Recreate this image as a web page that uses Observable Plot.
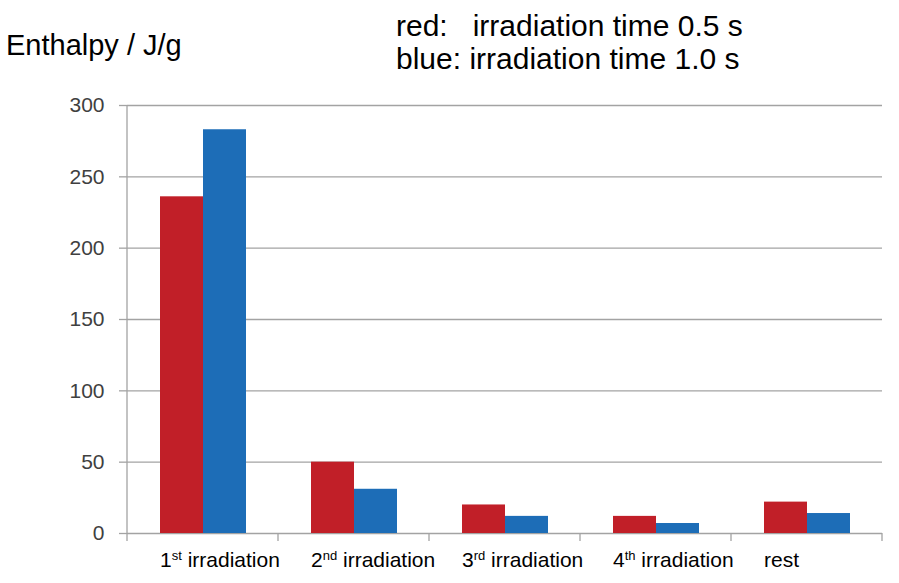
<!DOCTYPE html>
<html>
<head>
<meta charset="utf-8">
<script src="https://cdn.jsdelivr.net/npm/d3@7"></script>
<script src="https://cdn.jsdelivr.net/npm/@observablehq/plot@0.6"></script>
<style>
  body { margin: 0; background: #fff; font-family: "Liberation Sans", Arial, sans-serif; }
  #wrap { position: relative; width: 899px; height: 583px; overflow: hidden; }
  #wrap svg { position: absolute; left: 0; top: 0; }
  .t { position: absolute; white-space: pre; line-height: 1; color: #000; font-family: "Liberation Sans", Arial, sans-serif; }
</style>
</head>
<body>
<div id="wrap">
  <div class="t" style="left:6px;top:31px;font-size:29px">Enthalpy / J/g</div>
  <div class="t" style="left:396px;top:11px;font-size:30px">red:   irradiation time 0.5 s</div>
  <div class="t" style="left:396px;top:44px;font-size:30px">blue: irradiation time 1.0 s</div>
</div>
<script>
const categories = ["1st irradiation", "2nd irradiation", "3rd irradiation", "4th irradiation", "rest"];
const series = ["0.5 s", "1.0 s"];
const red05 = [236, 50, 20, 12, 22];
const blue10 = [283, 31, 12, 7, 14];
const yTicks = [0, 50, 100, 150, 200, 250, 300];
const colors = ["#c11f28", "#1d6db7"];

const data = categories.flatMap((c, i) => [
  {category: c, series: series[0], value: red05[i]},
  {category: c, series: series[1], value: blue10[i]}
]);

const gridColor = "#a3a3a3";

const chart = Plot.plot({
  width: 899,
  height: 583,
  marginTop: 105,
  marginBottom: 50,
  marginLeft: 125,
  marginRight: 16,
  style: {fontFamily: "Liberation Sans, Arial, sans-serif", background: "transparent"},
  fx: {domain: categories, padding: 0, axis: null, label: null},
  x: {domain: series, paddingInner: 0, paddingOuter: 0.74, axis: null},
  y: {domain: [0, 300], axis: null},
  color: {domain: series, range: colors},
  marks: [
    Plot.gridY(yTicks, {stroke: gridColor, strokeOpacity: 1, strokeWidth: 1.3}),
    Plot.axisY(yTicks, {tickSize: 8, tickPadding: 15, fontSize: 21, fill: "#404040", stroke: gridColor, strokeWidth: 1.3, strokeOpacity: 1, label: null}),
    Plot.barY(data, {fx: "category", x: "series", y: "value", fill: "series"}),
    Plot.axisFx({anchor: "bottom", tickSize: 0, tickPadding: 19, fontSize: 21, fill: "#000", textAnchor: "start", dx: -43, label: null})
  ]
});

document.getElementById("wrap").prepend(chart);

// axis line and category boundary ticks, from the library's scales
const svg = d3.select(chart);
const fx = chart.scale("fx");
const y = chart.scale("y");
const y0 = y.apply(0), yTop = y.apply(300);
const g = svg.append("g").attr("stroke", gridColor).attr("stroke-width", 1.3);
const xLeft = fx.apply(categories[0]);
g.append("line").attr("x1", xLeft).attr("x2", xLeft).attr("y1", yTop).attr("y2", y0 + 8);
const bounds = categories.slice(1).map(c => fx.apply(c));
bounds.push(fx.apply(categories[categories.length - 1]) + fx.bandwidth);
bounds.forEach(xb => {
  g.append("line").attr("x1", xb).attr("x2", xb).attr("y1", y0).attr("y2", y0 + 8);
});

// superscript ordinals
svg.selectAll("text").each(function() {
  const t = d3.select(this);
  const s = t.text();
  const m = s.match(/^(\d+)(st|nd|rd|th)(.*)$/);
  if (!m) return;
  t.text(null);
  t.append("tspan").text(m[1]);
  t.append("tspan").attr("font-size", 13).attr("dy", -7).text(m[2]);
  t.append("tspan").attr("dy", 7).text(m[3]);
});
</script>
</body>
</html>
